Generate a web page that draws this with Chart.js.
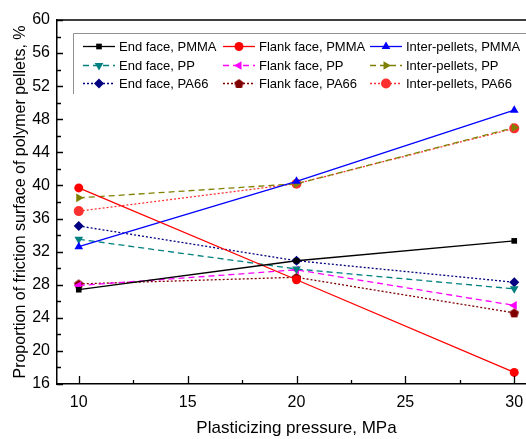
<!DOCTYPE html>
<html>
<head>
<meta charset="utf-8">
<script src="https://cdn.jsdelivr.net/npm/chart.js@4/dist/chart.umd.min.js"></script>
<style>
  html, body { margin: 0; padding: 0; background: #fff; overflow: hidden; }
  #wrap { width: 545px; height: 439px; }
</style>
</head>
<body>
<div id="wrap"><canvas id="friction_chart" width="545" height="439"></canvas></div>
<script>
// plasticizing pressure, MPa
var pressure = [10, 20, 30];

// proportion of friction surface, %
var end_pmma = [27.4, 30.9, 33.3];
var flank_pmma = [39.7, 28.6, 17.4];
var inter_pmma = [32.6, 40.5, 49.1];
var end_pp = [33.5, 29.9, 27.5];
var flank_pp = [27.9, 29.8, 25.5];
var inter_pp = [38.5, 40.2, 47.0];
var end_pa66 = [35.1, 30.9, 28.3];
var flank_pa66 = [28.1, 28.9, 24.6];
var inter_pa66 = [36.9, 40.2, 46.9];

var x_ticks = [10, 15, 20, 25, 30];
var y_ticks = [16, 20, 24, 28, 32, 36, 40, 44, 48, 52, 56, 60];

var font_family = '"Liberation Sans", Arial, sans-serif';

// pentagon marker, chart.js has no built-in one
function pentagon(color){
    var c = document.createElement('canvas');
    c.width = 11; c.height = 11;
    var g = c.getContext('2d');
    g.fillStyle = color;
    g.beginPath();
    for (var i = 0; i < 5; i++) {
        var a = -Math.PI / 2 + i * 2 * Math.PI / 5;
        var px = 5.5 + 5 * Math.cos(a);
        var py = 6 + 5 * Math.sin(a);
        if (i == 0) g.moveTo(px, py); else g.lineTo(px, py);
    }
    g.closePath();
    g.fill();
    return c;
}

function series(label, values, color, dash, style, rotation, radius){
    var pts = [];
    for (var i = 0; i < pressure.length; i++) {
        pts.push({x: pressure[i], y: values[i]});
    }
    return {
        label: label,
        data: pts,
        borderColor: color,
        backgroundColor: color,
        borderWidth: 1.3,
        borderDash: dash,
        pointStyle: style,
        rotation: rotation || 0,
        pointRadius: radius || 4.5,
        pointBorderWidth: 0,
        fill: false,
        tension: 0
    };
}

var solid = [];
var dashed = [6, 4];
var dotted = [2, 2];

var datasets = [
    series('End face, PMMA', end_pmma, '#000000', solid, 'rect', 0, 4),
    series('Flank face, PMMA', flank_pmma, '#ff0000', solid, 'circle', 0, 4.5),
    series('Inter-pellets, PMMA', inter_pmma, '#0000ff', solid, 'triangle', 0, 5),
    series('End face, PP', end_pp, '#008080', dashed, 'triangle', 180, 5),
    series('Flank face, PP', flank_pp, '#ff00ff', dashed, 'triangle', 270, 5),
    series('Inter-pellets, PP', inter_pp, '#808000', dashed, 'triangle', 90, 5),
    series('End face, PA66', end_pa66, '#000080', dotted, 'rectRot', 0, 5),
    series('Flank face, PA66', flank_pa66, '#800000', dotted, pentagon('#800000'), 0, 5),
    series('Inter-pellets, PA66', inter_pa66, '#ff3030', dotted, 'circle', 0, 5)
];

// inward tick marks, origin style
var inwardTicks = {
    id: 'inwardTicks',
    afterDatasetsDraw: function(chart){
        var ctx = chart.ctx;
        var xs = chart.scales.x, ys = chart.scales.y;
        var area = chart.chartArea;
        ctx.save();
        ctx.strokeStyle = '#000';
        ctx.lineWidth = 1.3;
        ctx.beginPath();
        for (var v = 10; v <= 30; v += 2.5) {
            var px = Math.round(xs.getPixelForValue(v)) + 0.5;
            var len = (v % 5 == 0) ? 8 : 4;
            ctx.moveTo(px, area.bottom);
            ctx.lineTo(px, area.bottom - len);
        }
        for (var w = 16; w <= 60; w += 2) {
            var py = Math.round(ys.getPixelForValue(w)) + 0.5;
            var l2 = (w % 4 == 0) ? 6 : 4;
            ctx.moveTo(area.left, py);
            ctx.lineTo(area.left + l2, py);
        }
        ctx.stroke();
        // frame top and right lines
        ctx.lineWidth = 1.5;
        ctx.beginPath();
        ctx.moveTo(area.left, area.top);
        ctx.lineTo(area.right, area.top);
        ctx.lineTo(area.right, area.bottom);
        ctx.stroke();
        ctx.restore();
    }
};

// three column legend inside the plot
var gridLegend = {
    id: 'gridLegend',
    afterDraw: function(chart){
        var ctx = chart.ctx;
        var cols = [83, 223, 370];
        var rows = [46, 64.5, 83];
        ctx.save();
        ctx.strokeStyle = '#909090';
        ctx.lineWidth = 1;
        ctx.beginPath();
        ctx.moveTo(73.5, 94);
        ctx.lineTo(73.5, 33.5);
        ctx.lineTo(545, 33.5);
        ctx.stroke();
        ctx.font = '13px ' + font_family;
        ctx.textBaseline = 'middle';
        chart.data.datasets.forEach(function(ds, i){
            var x0 = cols[i % 3], y0 = Math.round(rows[Math.floor(i / 3)]) + 0.5;
            ctx.save();
            ctx.strokeStyle = ds.borderColor;
            ctx.fillStyle = ds.backgroundColor;
            ctx.lineWidth = ds.borderWidth;
            ctx.setLineDash(ds.borderDash);
            ctx.beginPath();
            ctx.moveTo(x0, y0);
            ctx.lineTo(x0 + 32, y0);
            ctx.stroke();
            ctx.setLineDash([]);
            Chart.helpers.drawPoint(ctx, {
                pointStyle: ds.pointStyle,
                rotation: ds.rotation,
                radius: ds.pointRadius,
                borderWidth: 0
            }, x0 + 16, y0);
            ctx.restore();
            ctx.fillStyle = '#000';
            ctx.fillText(ds.label, x0 + 36, y0 + 0.5);
        });
        ctx.restore();
    }
};

const ctx = document.getElementById('friction_chart');
var friction_chart = new Chart(ctx, {
    type: 'line',
    data: { datasets: datasets },
    options: {
        responsive: false,
        animation: false,
        layout: { padding: { top: 20, right: 9, left: 11, bottom: 0 } },
        elements: { point: { hoverRadius: 5 } },
        scales: {
            x: {
                type: 'linear',
                min: 9,
                max: 31,
                afterBuildTicks: function(s){ s.ticks = x_ticks.map(function(v){ return {value: v}; }); },
                afterFit: function(s){ s.height = 55; },
                grid: { display: false, drawTicks: false },
                border: { display: true, color: '#000', width: 1.5 },
                ticks: { color: '#000', padding: 9, font: { size: 16, family: font_family } },
                title: { display: true, text: 'Plasticizing pressure, MPa', color: '#000',
                         font: { size: 17, family: font_family }, padding: 0 }
            },
            y: {
                min: 16,
                max: 60,
                afterBuildTicks: function(s){ s.ticks = y_ticks.map(function(v){ return {value: v}; }); },
                afterFit: function(s){ s.width = 46; },
                grid: { display: false, drawTicks: false },
                border: { display: true, color: '#000', width: 1.5 },
                ticks: { color: '#000', padding: 7, font: { size: 16, family: font_family } },
                title: { display: true, text: 'Proportion of friction surface of polymer pellets, %', color: '#000',
                         font: { size: 16, family: font_family }, padding: 0 }
            }
        },
        plugins: {
            legend: false,
            tooltip: { enabled: false }
        }
    },
    plugins: [inwardTicks, gridLegend]
});
</script>
</body>
</html>
